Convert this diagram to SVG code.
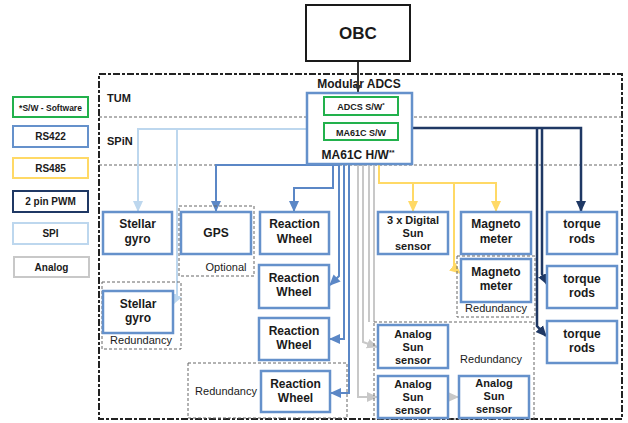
<svg xmlns="http://www.w3.org/2000/svg" width="628" height="423" viewBox="0 0 628 423">
<style>
text{font-family:"Liberation Sans",Arial,sans-serif;fill:#1a1a1a;text-anchor:middle}
.n{font-size:12px;font-weight:bold}
.n3{font-size:11px;font-weight:bold}
.lg{font-size:10px;font-weight:bold}
.red{font-size:11px}
.box{fill:#fff;stroke:#6591CB;stroke-width:2.5}
.grp{fill:none;stroke:#666;stroke-width:1;stroke-dasharray:3 2}
.c{fill:none;stroke-width:2}
.s422{stroke:#5B87C6}
.s485{stroke:#FFD966}
.pwm{stroke:#1F3864;stroke-width:2.5}
.spi{stroke:#BDD7EE}
.ana{stroke:#C8C8C8}
</style>
<defs>
<marker id="aB" markerUnits="userSpaceOnUse" markerWidth="12" markerHeight="12" refX="10" refY="6" orient="auto"><path d="M0,1 L11,6 L0,11 Z" fill="#5B87C6"/></marker>
<marker id="aY" markerUnits="userSpaceOnUse" markerWidth="12" markerHeight="12" refX="10" refY="6" orient="auto"><path d="M0,1 L11,6 L0,11 Z" fill="#FFD966"/></marker>
<marker id="aN" markerUnits="userSpaceOnUse" markerWidth="12" markerHeight="12" refX="10" refY="6" orient="auto"><path d="M0,1 L11,6 L0,11 Z" fill="#1F3864"/></marker>
<marker id="aS" markerUnits="userSpaceOnUse" markerWidth="12" markerHeight="12" refX="10" refY="6" orient="auto"><path d="M0,1 L11,6 L0,11 Z" fill="#BDD7EE"/></marker>
<marker id="aG" markerUnits="userSpaceOnUse" markerWidth="12" markerHeight="12" refX="10" refY="6" orient="auto"><path d="M0,1 L11,6 L0,11 Z" fill="#C8C8C8"/></marker>
<marker id="aK" markerUnits="userSpaceOnUse" markerWidth="8" markerHeight="8" refX="7" refY="4" orient="auto"><path d="M0,1 L7,4 L0,7 Z" fill="#333"/></marker>
</defs>

<!-- frames -->
<g id="frames">
<rect x="99" y="74" width="523" height="345" fill="none" stroke="#222" stroke-width="2" stroke-dasharray="7 2 3 2"/>
<line x1="99" y1="117" x2="622" y2="117" stroke="#666" stroke-width="1" stroke-dasharray="3 2"/>
<line x1="99" y1="165" x2="622" y2="165" stroke="#666" stroke-width="1" stroke-dasharray="3 2"/>
<text x="107" y="102" style="font-size:11px;font-weight:bold;text-anchor:start">TUM</text>
<text x="107" y="145" style="font-size:11px;font-weight:bold;text-anchor:start">SPiN</text>
<text x="359" y="88" class="n">Modular ADCS</text>
</g>

<!-- legend -->
<g id="legend">
<rect x="13" y="97" width="75" height="20" fill="#fff" stroke="#22B14C" stroke-width="2"/>
<text x="50.5" y="110.5" style="font-size:8.5px;font-weight:bold">*S/W - Software</text>
<rect x="13" y="126" width="75" height="21" fill="#fff" stroke="#6591CB" stroke-width="2"/>
<text x="50.5" y="140" class="lg">RS422</text>
<rect x="13" y="158" width="75" height="20" fill="#fff" stroke="#FFD966" stroke-width="2"/>
<text x="50.5" y="172" class="lg">RS485</text>
<rect x="13" y="191" width="75" height="21" fill="#fff" stroke="#1F3864" stroke-width="2"/>
<text x="50.5" y="205" class="lg">2 pin PWM</text>
<rect x="13" y="223" width="75" height="21" fill="#fff" stroke="#BDD7EE" stroke-width="2"/>
<text x="50.5" y="237" class="lg">SPI</text>
<rect x="14" y="257" width="75" height="20" fill="#fff" stroke="#C8C8C8" stroke-width="2"/>
<text x="51.5" y="271" class="lg">Analog</text>
</g>

<!-- connectors -->
<g id="connectors">
<path class="c" d="M358,61 V92" stroke="#333" stroke-width="1.5" marker-end="url(#aK)"/>
<!-- SPI -->
<path class="c spi" d="M307,129 H138 V211" marker-end="url(#aS)"/>
<path class="c spi" d="M177,129 V296 L173,304" marker-end="url(#aS)"/>
<!-- RS422 -->
<path class="c s422" d="M339,165 H216 V211" marker-end="url(#aB)"/>
<path class="c s422" d="M333,164 V188 H294 V211" marker-end="url(#aB)"/>
<path class="c s422" d="M339,164 V276 L330,285" marker-end="url(#aB)"/>
<path class="c s422" d="M344,164 V339 H330" marker-end="url(#aB)"/>
<path class="c s422" d="M349,164 V393 H331" marker-end="url(#aB)"/>
<!-- Analog -->
<path class="c ana" d="M358,164 V397 H377" marker-end="url(#aG)"/>
<path class="c ana" d="M363,164 V342 L377,347" marker-end="url(#aG)"/>
<path class="c ana" d="M369,164 V322"/>
<path class="c ana" d="M374,164 V322"/>
<path class="c ana" d="M448,397 H458" marker-end="url(#aG)"/>
<!-- RS485 -->
<path class="c s485" d="M379,164 V183 H496 V211" marker-end="url(#aY)"/>
<path class="c s485" d="M413,183 V211" marker-end="url(#aY)"/>
<path class="c s485" d="M454,183 V268 L460,273" marker-end="url(#aY)"/>
<!-- PWM -->
<path class="c pwm" d="M412,128 H581 V211" marker-end="url(#aN)"/>
<path class="c pwm" d="M542,128 V274 L547,284" marker-end="url(#aN)"/>
<path class="c pwm" d="M537,128 V326 L546,336" marker-end="url(#aN)"/>
</g>

<!-- nodes -->
<g id="obc">
<rect x="306" y="5" width="104" height="56" fill="#fff" stroke="#1a1a1a" stroke-width="2"/>
<text x="358" y="39" style="font-size:17px;font-weight:bold">OBC</text>
</g>
<g id="ma61c">
<rect x="307" y="93" width="105" height="71" class="box" stroke-width="2"/>
<rect x="324" y="97" width="74" height="18" fill="#fff" stroke="#22B14C" stroke-width="2"/>
<text x="361" y="110" style="font-size:9px;font-weight:bold">ADCS S/W<tspan dy="-3" style="font-size:6px">*</tspan></text>
<rect x="324" y="123" width="74" height="17" fill="#fff" stroke="#22B14C" stroke-width="2"/>
<text x="361" y="135.5" style="font-size:9px;font-weight:bold">MA61C S/W</text>
<text x="358" y="159" class="n">MA61C H/W<tspan dy="-4" style="font-size:7px">**</tspan></text>
</g>

<g id="stellar-gyro-1"><rect x="103" y="212" width="69" height="42" class="box"/><text x="137.5" y="228" class="n">Stellar</text><text x="137.5" y="243" class="n">gyro</text></g>
<g id="gps"><rect x="179" y="206" width="75" height="70" class="grp"/><rect x="181" y="212" width="70" height="42" class="box"/><text x="216" y="237" class="n">GPS</text><text x="226" y="271" class="red">Optional</text></g>
<g id="reaction-wheel-1"><rect x="260" y="212" width="69" height="42" class="box"/><text x="294.5" y="228" class="n">Reaction</text><text x="294.5" y="243" class="n">Wheel</text></g>
<g id="digital-sun"><rect x="378" y="212" width="70" height="42" class="box"/><text x="413" y="224" class="n3">3 x Digital</text><text x="413" y="237" class="n3">Sun</text><text x="413" y="250" class="n3">sensor</text></g>
<g id="magnetometer-1"><rect x="461" y="212" width="70" height="42" class="box"/><text x="496" y="228" class="n">Magneto</text><text x="496" y="243" class="n">meter</text></g>
<g id="torque-rods-1"><rect x="547" y="212" width="70" height="42" class="box"/><text x="582" y="228" class="n">torque</text><text x="582" y="243" class="n">rods</text></g>

<g id="magnetometer-2"><rect x="457" y="256" width="78" height="61" class="grp"/><rect x="461" y="259" width="70" height="43" class="box"/><text x="496" y="276" class="n">Magneto</text><text x="496" y="290" class="n">meter</text><text x="496" y="312" class="red">Redundancy</text></g>
<g id="torque-rods-2"><rect x="547" y="266" width="70" height="42" class="box"/><text x="582" y="283" class="n">torque</text><text x="582" y="297" class="n">rods</text></g>
<g id="torque-rods-3"><rect x="547" y="321" width="70" height="42" class="box"/><text x="582" y="338" class="n">torque</text><text x="582" y="352" class="n">rods</text></g>

<g id="reaction-wheel-2"><rect x="259" y="265" width="70" height="43" class="box"/><text x="294" y="282" class="n">Reaction</text><text x="294" y="296" class="n">Wheel</text></g>
<g id="reaction-wheel-3"><rect x="259" y="318" width="70" height="42" class="box"/><text x="294" y="335" class="n">Reaction</text><text x="294" y="349" class="n">Wheel</text></g>
<g id="reaction-wheel-4"><rect x="188" y="363" width="159" height="55" class="grp"/><rect x="261" y="371" width="69" height="41" class="box"/><text x="295.5" y="388" class="n">Reaction</text><text x="295.5" y="402" class="n">Wheel</text><text x="226" y="395" class="red">Redundancy</text></g>

<g id="stellar-gyro-2"><rect x="102" y="282" width="79" height="67" class="grp"/><rect x="103" y="291" width="70" height="42" class="box"/><text x="138" y="308" class="n">Stellar</text><text x="138" y="322" class="n">gyro</text><text x="141" y="344" class="red">Redundancy</text></g>

<g id="analog-sun"><rect x="374" y="322" width="160" height="97" class="grp"/><text x="491" y="363" class="red">Redundancy</text>
<rect x="378" y="325" width="70" height="43" class="box"/><text x="413" y="338" class="n3">Analog</text><text x="413" y="351" class="n3">Sun</text><text x="413" y="364" class="n3">sensor</text>
<rect x="378" y="376" width="70" height="42" class="box"/><text x="413" y="388" class="n3">Analog</text><text x="413" y="401" class="n3">Sun</text><text x="413" y="414" class="n3">sensor</text>
<rect x="459" y="376" width="70" height="42" class="box"/><text x="494" y="387" class="n3">Analog</text><text x="494" y="400" class="n3">Sun</text><text x="494" y="413" class="n3">sensor</text>
</g>
</svg>
